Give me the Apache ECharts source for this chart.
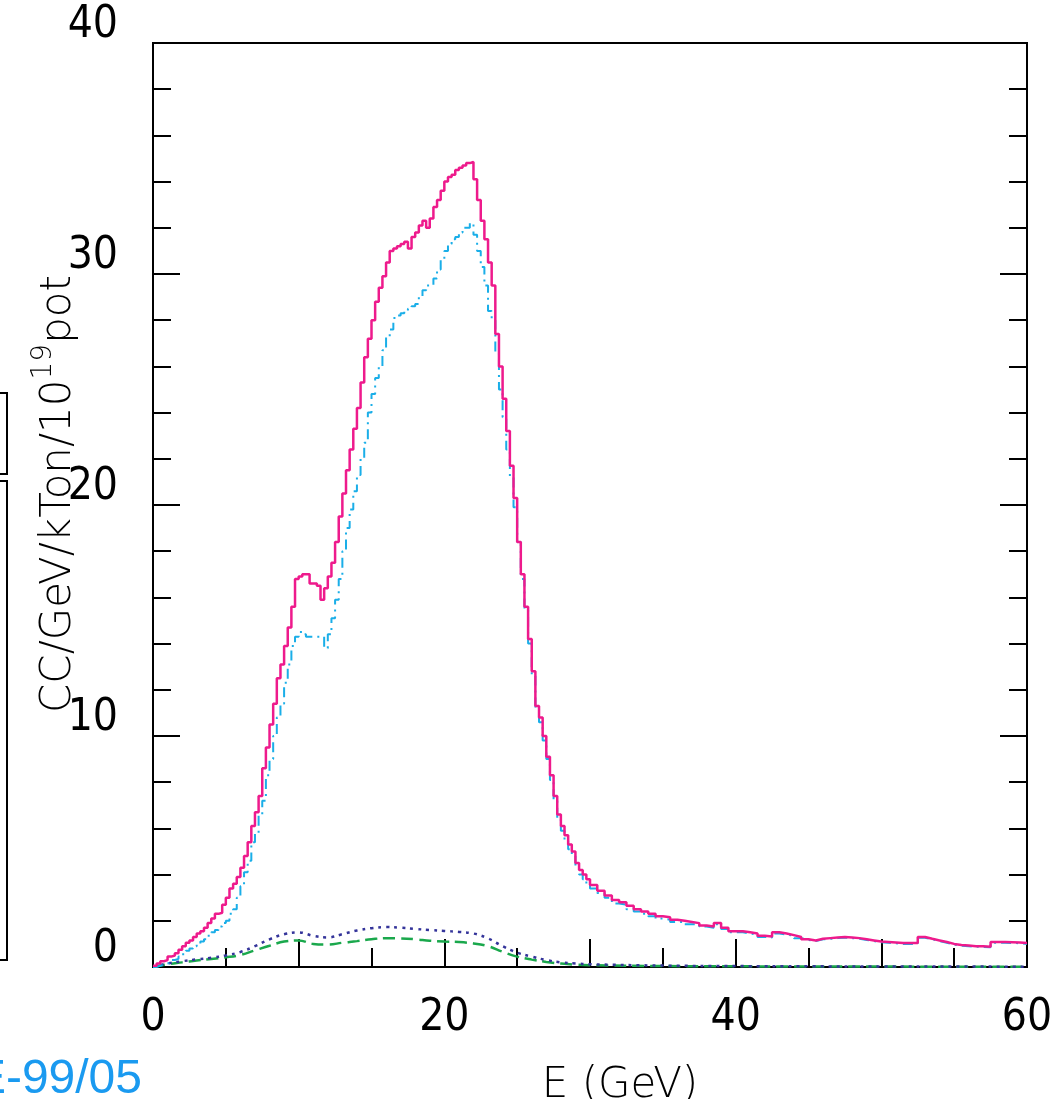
<!DOCTYPE html>
<html>
<head>
<meta charset="utf-8">
<script src="https://cdn.jsdelivr.net/npm/echarts@6/dist/echarts.min.js"></script>
<style>
  html, body { margin: 0; padding: 0; background: #fff; }
  #chart { width: 1064px; height: 1099px; }
</style>
</head>
<body>
<div id="chart"></div>
<script>
// histogram values, 0.25 GeV bins from 0 to 30
const totalLo = [0.05,0.15,0.25,0.3,0.45,0.5,0.6,0.75,0.9,1.05,
  1.15,1.3,1.45,1.55,1.7,1.9,2.1,2.3,2.35,2.7,
  3.0,3.4,3.6,3.9,4.3,4.8,5.4,6.1,6.7,7.4,
  8.6,9.5,10.5,11.4,12.5,13.1,13.9,14.7,15.6,16.8,
  16.9,17.0,17.0,16.6,16.6,16.5,15.9,16.4,16.9,17.5,
  18.4,19.5,20.5,21.5,22.4,23.3,24.2,25.3,26.4,27.2,
  28.0,28.8,29.4,29.9,30.5,31.0,31.1,31.2,31.3,31.4,
  31.1,31.6,31.8,32.1,32.3,32.0,32.4,32.9,33.2,33.6,
  34.0,34.2,34.3,34.5,34.6,34.7,34.8,34.85,34.1,33.2,
  32.3,31.5,30.5,29.5,27.4,26.0,24.6,23.2,21.7,20.3,
  18.4,17.0,15.6,14.2,12.8,11.3,10.8,10.0,9.1,8.3,
  7.4,6.6,6.1,5.7,5.3,5.0,4.5,4.2,4.0,3.8];
// 0.5 GeV bins from 30 to 60
const totalHi = [3.55,3.3,3.1,2.9,2.8,2.65,2.5,2.4,2.3,2.2,
  2.15,2.05,2.0,1.95,1.9,1.8,1.75,1.9,1.7,1.55,
  1.55,1.5,1.45,1.35,1.32,1.5,1.45,1.38,1.3,1.2,
  1.15,1.22,1.25,1.28,1.3,1.28,1.25,1.2,1.15,1.1,
  1.08,1.06,1.04,1.04,1.04,1.3,1.22,1.15,1.08,1.0,
  0.95,0.93,0.9,0.9,0.88,1.08,1.08,1.07,1.06,1.04];

const numuLo = [0.0,0.05,0.1,0.15,0.2,0.3,0.35,0.45,0.55,0.7,
  0.8,0.9,1.0,1.1,1.2,1.35,1.5,1.6,1.75,1.9,
  2.0,2.3,2.5,3.0,3.5,4.1,4.6,5.4,5.8,6.6,
  7.2,8.3,9.0,10.0,10.8,11.4,12.3,13.1,13.9,14.3,
  14.5,14.4,14.3,14.3,14.3,14.3,14.3,13.8,14.4,15.1,
  15.9,16.8,18.0,19.0,19.8,20.6,21.3,22.0,22.7,24.0,
  24.8,25.5,26.0,26.7,27.3,27.6,28.1,28.2,28.3,28.4,
  28.5,28.6,28.7,29.0,29.3,29.5,29.5,29.8,30.2,30.6,
  31.0,31.3,31.5,31.6,31.8,32.0,32.0,32.2,31.7,31.0,
  30.3,29.5,28.4,28.0,26.6,25.0,23.8,22.4,21.2,19.9,
  18.4,16.8,15.5,14.0,12.6,11.2,10.6,9.8,9.0,8.1,
  7.2,6.4,5.9,5.5,5.1,4.8,4.3,4.0,3.8,3.6];
const numuHi = [3.4,3.2,3.0,2.75,2.7,2.5,2.4,2.3,2.2,2.1,
  2.05,1.95,1.95,1.85,1.85,1.75,1.7,1.85,1.65,1.5,
  1.5,1.45,1.4,1.3,1.28,1.45,1.4,1.35,1.25,1.17,
  1.12,1.2,1.22,1.25,1.27,1.25,1.22,1.17,1.12,1.07,
  1.05,1.03,1.0,1.0,1.0,1.27,1.2,1.12,1.05,0.97,
  0.92,0.9,0.88,0.87,0.85,1.05,1.05,1.04,1.03,1.0];

// smooth curves
const smoothE = [0,1,2,3,4,5,6,7,8,9,10,11,12,13,14,15,16,17,18,19,20,
  21,22,23,24,25,26,27,28,29,30,35,40,45,50,55,60];
const nubarVals = [0,0.15,0.25,0.33,0.4,0.5,0.65,0.9,1.2,1.42,
  1.5,1.35,1.28,1.42,1.58,1.68,1.73,1.7,1.65,1.6,
  1.56,1.52,1.45,1.24,0.9,0.62,0.45,0.3,0.2,0.15,
  0.12,0.06,0.04,0.03,0.02,0.02,0.01];
const nueVals = [0,0.12,0.2,0.28,0.35,0.42,0.52,0.72,0.92,1.1,
  1.15,1.0,0.97,1.05,1.12,1.2,1.25,1.24,1.2,1.14,
  1.1,1.08,1.02,0.9,0.66,0.45,0.32,0.22,0.15,0.1,
  0.08,0.04,0.03,0.02,0.02,0.01,0.01];

const xTickLabels = [0, 20, 40, 60];
const yTickLabels = [0, 10, 20, 30, 40];

const stepPoints = (lo, hi) => {
  const pts = [];
  lo.forEach((v, i) => pts.push([i * 0.25, v]));
  hi.forEach((v, i) => pts.push([30 + i * 0.5, v]));
  pts.push([60, hi[hi.length - 1]]);
  return pts;
};

const tickFont = {
  fontFamily: "'DejaVu Sans Condensed', 'Roboto Condensed', 'Liberation Sans Narrow', Roboto, sans-serif",
  fontWeight: 300, fontSize: 44, color: '#000'
};
const titleFont = 'DejaVu Sans';

const chart = echarts.init(document.getElementById('chart'), null, { renderer: 'canvas' });

const axisCommon = {
  axisLine: { show: true, lineStyle: { color: '#000', width: 2 } },
  axisTick: { show: true, inside: true, length: 28, lineStyle: { color: '#000', width: 2 } },
  minorTick: { show: true, length: 19, lineStyle: { color: '#000', width: 2 } },
  splitLine: { show: false },
  minorSplitLine: { show: false }
};

chart.setOption({
  animation: false,
  backgroundColor: '#fff',
  grid: {
    left: 153, right: 37, top: 43, bottom: 132,
    outerBoundsMode: 'none',
    show: true, borderColor: '#000', borderWidth: 2, backgroundColor: 'transparent'
  },
  xAxis: [{
    type: 'value', min: 0, max: 60, interval: 10,
    ...axisCommon,
    minorTick: { ...axisCommon.minorTick, splitNumber: 2 },
    axisLabel: {
      ...tickFont, margin: 30,
      formatter: v => (xTickLabels.indexOf(v) >= 0 ? String(v) : '')
    },
    name: 'E (GeV)',
    nameLocation: 'middle',
    nameGap: 98,
    nameMoveOverlap: false,
    nameTextStyle: { fontFamily: titleFont, fontWeight: 200, fontSize: 42, color: '#000', padding: [0, 0, 0, 60] }
  }],
  yAxis: [{
    type: 'value', min: 0, max: 40, interval: 10, position: 'left',
    ...axisCommon,
    axisTick: { ...axisCommon.axisTick, length: 27 },
    minorTick: { ...axisCommon.minorTick, splitNumber: 5, length: 18 },
    axisLabel: {
      ...tickFont, margin: 35, verticalAlign: 'bottom', lineHeight: 34,
      formatter: v => (yTickLabels.indexOf(v) >= 0 ? String(v) : '')
    },
    name: 'CC/GeV/kTon/10{sup|19}pot',
    nameLocation: 'middle',
    nameRotate: 90,
    nameGap: 65,
    nameMoveOverlap: false,
    nameTextStyle: {
      fontFamily: titleFont, fontWeight: 200, fontSize: 42, color: '#000',
      padding: [0, 0, 0, 22],
      rich: {
        sup: { fontFamily: titleFont, fontWeight: 200, fontSize: 28, color: '#000', padding: [0, 0, 30, 0] }
      }
    }
  }, {
    type: 'value', min: 0, max: 40, interval: 10, position: 'right',
    ...axisCommon,
    axisTick: { ...axisCommon.axisTick, length: 27 },
    minorTick: { ...axisCommon.minorTick, splitNumber: 5, length: 18 },
    axisLabel: { show: false }
  }],
  graphic: [
    { type: 'rect', shape: { x: -10, y: 393, width: 17, height: 81 }, style: { fill: 'none', stroke: '#000', lineWidth: 2 } },
    { type: 'rect', shape: { x: -10, y: 481, width: 17, height: 479 }, style: { fill: 'none', stroke: '#000', lineWidth: 2 } },
    {
      type: 'text', right: 922, top: 1056,
      style: { text: 'E-99/05', font: '48px "Liberation Sans"', fill: '#1a9af0' }
    }
  ],
  series: [
    {
      name: 'nu_e', type: 'line', data: smoothE.map((e, i) => [e, nueVals[i]]),
      smooth: 0.4, showSymbol: false, z: 2,
      lineStyle: { color: '#1aa84c', width: 2.5, type: [12, 6] }
    },
    {
      name: 'anti nu_mu', type: 'line', data: smoothE.map((e, i) => [e, nubarVals[i]]),
      smooth: 0.4, showSymbol: false, z: 2,
      lineStyle: { color: '#34349a', width: 2.5, type: [3, 5] }
    },
    {
      name: 'nu_mu', type: 'line', data: stepPoints(numuLo, numuHi),
      step: 'end', showSymbol: false, z: 3,
      lineStyle: { color: '#1aaee8', width: 2, type: [10, 5, 2, 5] }
    },
    {
      name: 'total', type: 'line', data: stepPoints(totalLo, totalHi),
      step: 'end', showSymbol: false, z: 4,
      lineStyle: { color: '#ee1a8c', width: 2.5 }
    }
  ]
});
</script>
</body>
</html>
